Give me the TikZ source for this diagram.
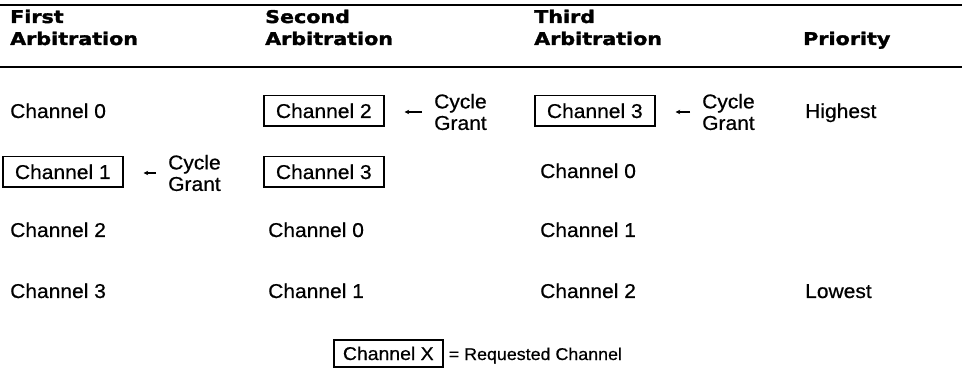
\documentclass[tikz,border=0pt]{standalone}
\usepackage{fontspec}
\usetikzlibrary{arrows.meta}
\newfontfamily\bodyf{Liberation Sans}[FakeStretch=1.05, FakeBold=0.6]
\newfontfamily\hdrf{DejaVu Sans}[FakeStretch=1.18, BoldFeatures={FakeBold=1.8}]
\tikzset{
  hdr/.style={inner sep=0pt, anchor=base west, font=\hdrf\bfseries\fontsize{17.5}{20}\selectfont},
  txt/.style={inner sep=0pt, anchor=base west, font=\bodyf\fontsize{20}{20}\selectfont},
  chbox/.style={draw, line width=1.9pt, inner xsep=12pt, inner ysep=8pt, anchor=base west, font=\bodyf\fontsize{20}{20}\selectfont},
  legbox/.style={draw, line width=1.9pt, inner xsep=9pt, inner ysep=6.5pt, anchor=base west, font=\bodyf\fontsize{18.5}{20}\selectfont},
  legtxt/.style={inner sep=0pt, anchor=base west, font=\bodyf\fontsize{17}{20}\selectfont},
  cg/.style={inner sep=0pt, anchor=west, align=left, font=\bodyf\fontsize{20}{21.5}\selectfont},
  garrow/.style={line width=1.4pt, -{Stealth[length=4.5pt,width=4.5pt]}, shorten <=12pt, shorten >=20pt},
  rulel/.style={line width=2.8pt}
}
\begin{document}
\begin{tikzpicture}[x=1pt,y=-1pt]
\useasboundingbox (0,0) rectangle (962,374);
% rules
\draw[rulel] (0,5) -- (962,5);
\draw[rulel] (0,67) -- (962,67);
% headers
\node[hdr] (h1a) at (10,23) {First};
\node[hdr] (h1b) at (10,45) {Arbitration};
\node[hdr] (h2a) at (265,23) {Second};
\node[hdr] (h2b) at (265,45) {Arbitration};
\node[hdr] (h3a) at (534,23) {Third};
\node[hdr] (h3b) at (534,45) {Arbitration};
\node[hdr] (h4) at (803,45) {Priority};
% row 1
\node[txt] (r1c1) at (10,118) {Channel 0};
\node[chbox] (r1c2) at (263,118) {Channel 2};
\node[cg] (g12) at (434,112) {Cycle\\Grant};
\node[chbox] (r1c3) at (534,118) {Channel 3};
\node[cg] (g13) at (702,112) {Cycle\\Grant};
\node[txt] (r1c4) at (805,118) {Highest};
% row 2
\node[chbox] (r2c1) at (2,179) {Channel 1};
\node[cg] (g21) at (168,173) {Cycle\\Grant};
\node[chbox] (r2c2) at (263,179) {Channel 3};
\node[txt] (r2c3) at (540,178) {Channel 0};
% row 3
\node[txt] (r3c1) at (10,237) {Channel 2};
\node[txt] (r3c2) at (268,237) {Channel 0};
\node[txt] (r3c3) at (540,237) {Channel 1};
% row 4
\node[txt] (r4c1) at (10,298) {Channel 3};
\node[txt] (r4c2) at (268,298) {Channel 1};
\node[txt] (r4c3) at (540,298) {Channel 2};
\node[txt] (r4c4) at (805,298) {Lowest};
% arrows
\draw[garrow] (g12.west) -- (g12.west -| r1c2.east);
\draw[garrow] (g13.west) -- (g13.west -| r1c3.east);
\draw[garrow] (g21.west) -- (g21.west -| r2c1.east);
% legend
\node[legbox] (lx) at (333,360) {Channel X};
\node[legtxt] (ltxt) at ([xshift=5pt]lx.base east) {= Requested Channel};
\end{tikzpicture}
\end{document}
